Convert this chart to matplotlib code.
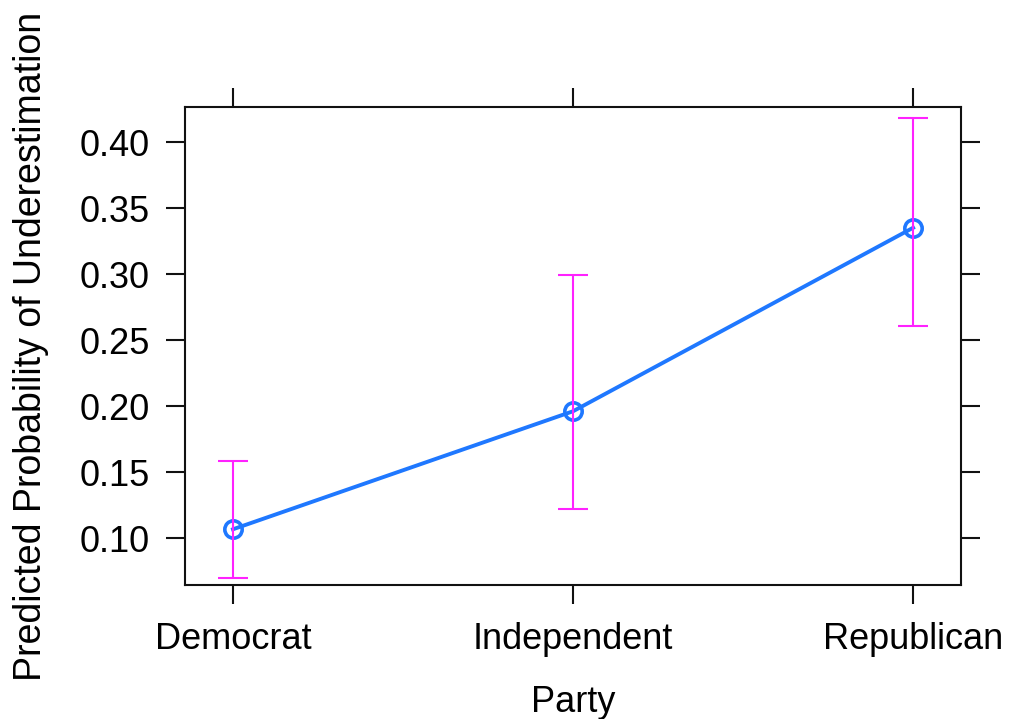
import numpy as np
import matplotlib.pyplot as plt

plt.rcParams['font.family'] = ['Liberation Sans', 'DejaVu Sans']

# effect estimates with confidence limits
party = ['Democrat', 'Independent', 'Republican']
fit = [0.1068, 0.1962, 0.3352]
lower = [0.0702, 0.1221, 0.2610]
upper = [0.1583, 0.2992, 0.4183]
yticks = [0.10, 0.15, 0.20, 0.25, 0.30, 0.35, 0.40]

x = np.arange(len(party))
fit = np.array(fit)
yerr = [fit - np.array(lower), np.array(upper) - fit]

fig = plt.figure(figsize=(10.11, 7.19), dpi=100)
ax = fig.add_axes([0.183, 0.1864, 0.7676, 0.6648])

ax.plot(x, fit, color='#1f78ff', lw=2.8, marker='o', ms=12.5,
        mfc='none', mec='#1f78ff', mew=2.6, zorder=2)
ax.errorbar(x, fit, yerr=yerr, fmt='none', ecolor='#ff22ff',
            elinewidth=1.5, capsize=11, capthick=1.5, zorder=3)

ax.set_xlim(-0.141, 2.141)
ax.set_ylim(0.0646, 0.4267)
ax.set_xticks(x)
ax.set_xticklabels(party)
ax.set_yticks(yticks)
ax.set_yticklabels(['%.2f' % t for t in yticks])

ax.tick_params(axis='both', direction='out', length=13.5, width=1.5,
               labelsize=26, color='#111111', pad=12)
ax.tick_params(axis='x', pad=13)
ax.tick_params(top=True, right=True)
for s in ax.spines.values():
    s.set_linewidth(1.5)
    s.set_color('#111111')

ax.set_xlabel('Party', fontsize=26, labelpad=20)
ax.set_ylabel('Predicted Probability of Underestimation', fontsize=27, labelpad=22)

fig.savefig('out.png', dpi=100)
